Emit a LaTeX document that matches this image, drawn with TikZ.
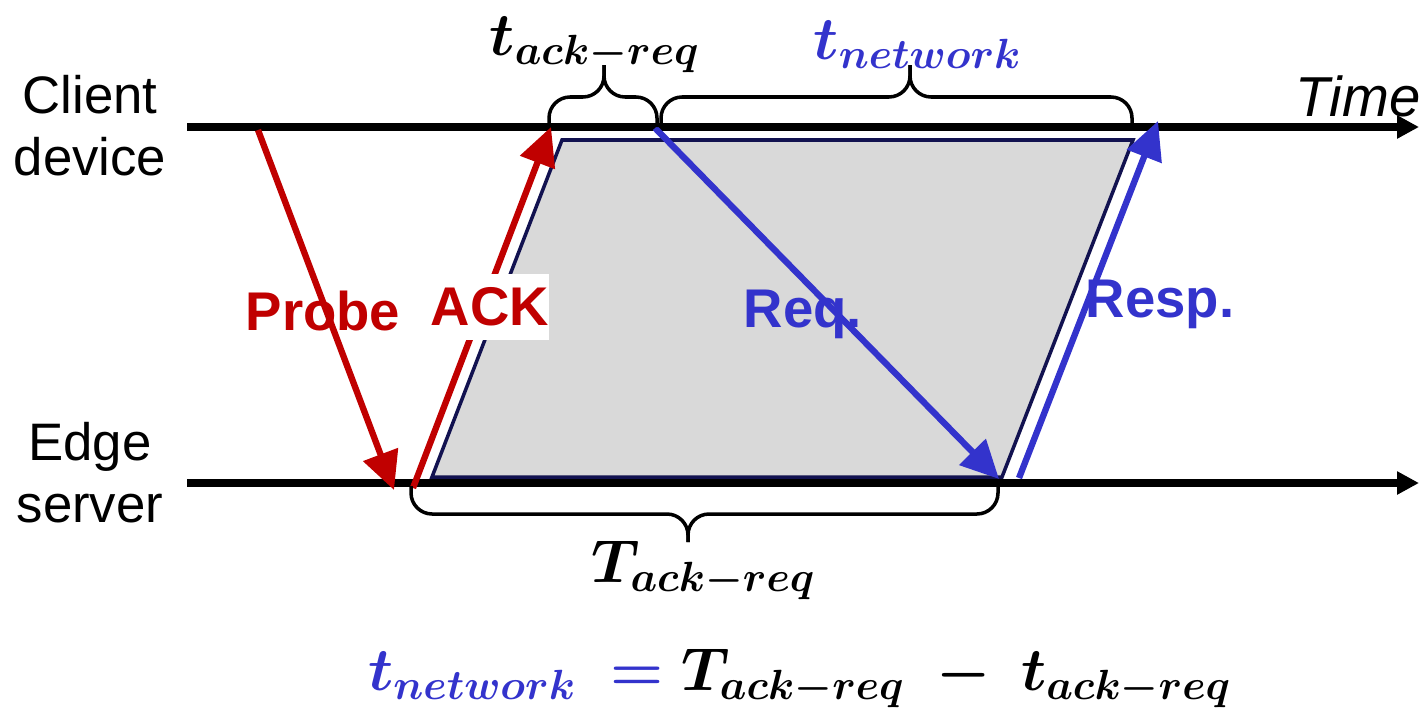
\documentclass[tikz,border=0pt]{standalone}
\usepackage{fontspec}
\setmainfont{Liberation Sans}
\usepackage{amsmath,bm}
\usetikzlibrary{arrows.meta}

\definecolor{probered}{RGB}{192,0,0}
\definecolor{reqblue}{RGB}{51,51,204}
\definecolor{boxnavy}{RGB}{18,18,80}
\definecolor{boxgray}{RGB}{217,217,217}

\newcommand{\bsub}[2]{\bm{#1}_{\bm{#2}}}

\begin{document}
\begin{tikzpicture}[
  x=0.01cm, y=-0.01cm,
  font=\fontsize{16}{19}\selectfont,
  axis/.style={line width=2pt, -{Triangle[length=0.22cm,width=0.22cm]}},
  msg/.style={line width=1.8pt, -{Triangle[length=0.38cm,width=0.36cm]}},
  lbl/.style={font=\fontsize{15.5}{19}\selectfont\bfseries, inner sep=1pt},
  side/.style={align=center, font=\fontsize{15}{17.6}\selectfont},
  brc/.style={draw, line width=1pt, rounded corners=6pt},
  mth/.style={font=\fontsize{17.5}{21}\selectfont, inner sep=0pt}
]
\useasboundingbox (0,0) rectangle (1419,712);

% time lines
\coordinate (c0) at (187,127);
\coordinate (c1) at (1419,127);
\coordinate (e0) at (187,483);
\coordinate (e1) at (1419,483);
\draw[axis] (c0) -- (c1);
\draw[axis] (e0) -- (e1);

\node[side] (client) at (90,126) {Client\\device};
\node[side] (edge) at (90,473) {Edge\\server};
\node[font=\fontsize{16}{19}\selectfont\itshape, anchor=base east, inner sep=0pt] (time) at (1421,116) {Time};

% busy period
\draw[boxnavy, line width=1pt, fill=boxgray]
  (432,477) coordinate (p0) -- (562,140) coordinate (p1)
  -- (1133,140) coordinate (p2) -- (1002,477) coordinate (p3) -- cycle;

% messages
\coordinate (probeA) at (258,130);
\coordinate (probeB) at (394,490);
\coordinate (ackA) at (413,488);
\coordinate (ackB) at (551,127);
\coordinate (reqA) at (655,128);
\coordinate (reqB) at (999,479);
\coordinate (respA) at (1019,478);
\coordinate (respB) at (1158,121);
\draw[msg, probered] (probeA) -- (probeB);
\draw[msg, probered] (ackA) -- (ackB);
\draw[msg, reqblue] (reqA) -- (reqB);
\draw[msg, reqblue] (respA) -- (respB);

\node[lbl, probered] (probe) at (323,311) {Probe};
\node[lbl, probered, fill=white, inner xsep=0pt, inner ysep=4pt] (ack) at (490,307) {ACK};
\node[lbl, reqblue] (req) at (803,314) {Req.};
\node[lbl, reqblue] (resp) at (1160,304) {Resp.};

% braces
\draw[brc] (549,127) -- (549,97) -- (604,97) -- (604,65);
\draw[brc] (657,127) -- (657,97) -- (604,97) -- (604,65);
\draw[brc] (661,127) -- (661,97) -- (910,97) -- (910,65);
\draw[brc] (1132,127) -- (1132,97) -- (910,97) -- (910,65);
\draw[brc] (411,486) -- (411,514) -- (688,514) -- (688,542);
\draw[brc] (998,486) -- (998,514) -- (688,514) -- (688,542);

\node[mth] (tack) at (595,45) {$\bsub{t}{ack-req}$};
\node[mth, reqblue] (tnet) at (918,45) {$\bsub{t}{network}$};
\node[mth] (Tack) at (704,570) {$\bsub{T}{ack-req}$};
\node[mth] (eqn) at (800,678)
  {$\textcolor{reqblue}{\bsub{t}{network}\ \bm{=}}\ \bsub{T}{ack-req}\ \bm{-}\ \bsub{t}{ack-req}$};
\end{tikzpicture}
\end{document}
